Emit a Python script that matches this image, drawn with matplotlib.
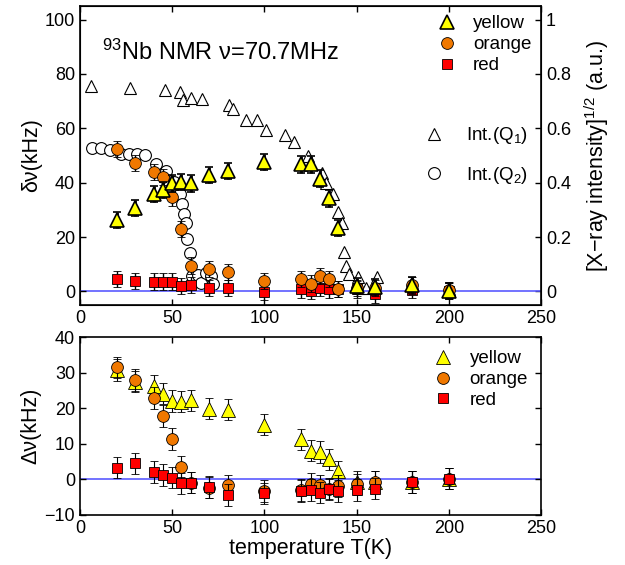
import numpy as np
import matplotlib
matplotlib.use('Agg')
import matplotlib.pyplot as plt
from matplotlib.lines import Line2D

plt.rcParams['font.family'] = ['Liberation Sans', 'DejaVu Sans']
plt.rcParams['font.size'] = 13
plt.rcParams['mathtext.fontset'] = 'custom'
plt.rcParams['mathtext.rm'] = 'Liberation Sans'
plt.rcParams['mathtext.it'] = 'Liberation Sans:italic'
plt.rcParams['mathtext.bf'] = 'Liberation Sans:bold'

# temperatures of the NMR points
temp = [20, 30, 40, 45, 50, 55, 60, 70, 80, 100, 120, 125, 130, 135, 140, 150, 160, 180, 200]

# top panel: delta nu (kHz)
top_yellow = [26.3, 30.8, 35.8, 37.2, 39.7, 40.3, 39.7, 42.7, 44.3, 47.6, 46.7, 46.7, 41.5, 34.2, 23.2, 1.9, 1.6, 2.3, 0.1]
top_orange = [52.4, 47.2, 43.9, 42.1, 34.6, 23.0, 9.5, 8.3, 7.1, 3.8, 4.6, 2.9, 5.6, 4.6, 1.0, 1.3, 1.3, 2.2, 0.4]
top_red = [4.6, 3.8, 3.6, 3.6, 3.6, 1.9, 2.3, 1.3, 1.3, -0.2, 0.7, 0.1, 1.3, 0.7, 1.0, 0.7, -1.1, 0.4, 0.1]
top_err = 3.0

# x-ray intensities (right axis)
q1_temp = [6, 27, 46, 54, 56, 60, 66, 81, 83, 90, 96, 101, 111, 116, 123.5, 131, 133.4, 137, 140, 142,
           143.4, 144, 146, 150.6, 155, 161, 180, 200]
q1_int = [0.755, 0.75, 0.74, 0.734, 0.705, 0.712, 0.708, 0.684, 0.672, 0.629, 0.629, 0.592, 0.574, 0.551,
          0.497, 0.434, 0.40, 0.36, 0.293, 0.25, 0.146, 0.093, 0.065, 0.053, 0.013, 0.053, 0.032, 0.01]
q2_temp = [6.3, 11.4, 16.5, 22, 26.8, 31, 35, 41, 46.6, 51, 54, 55.3, 56.6, 57.5, 57.9, 59.7, 60.7, 63.8,
           65.6, 68.3, 71, 72]
q2_int = [0.528, 0.528, 0.522, 0.507, 0.507, 0.507, 0.50, 0.47, 0.442, 0.402, 0.357, 0.32, 0.283, 0.252,
          0.191, 0.142, 0.056, 0.059, 0.032, 0.069, 0.056, 0.026]

# bottom panel: Delta nu (kHz)
bot_yellow = [30.7, 27.5, 26.2, 24.1, 22.0, 21.8, 22.2, 19.9, 19.6, 15.4, 11.3, 8.1, 7.7, 5.6, 2.3, -0.7, -0.7, -0.7, 0.2]
bot_orange = [31.5, 27.9, 22.9, 17.8, 11.4, 3.6, -0.9, -2.3, -1.7, -3.3, -3.0, -1.2, -1.7, -2.8, -1.9, -1.4, -0.7, -0.7, 0.2]
bot_red = [3.3, 4.5, 2.1, 1.2, 0.5, -1.1, -0.9, -2.1, -4.4, -3.9, -3.3, -3.0, -3.7, -2.6, -3.3, -3.0, -2.6, -0.7, 0.2]
bot_err = 3.0

c_yellow = '#ffff00'
c_orange = '#f07800'
c_red = '#ff0000'
c_zero = '#5a5aff'
label_fs = 15.5
legend_fs = 13.5

fig = plt.figure(figsize=(6.25, 5.65), dpi=100)
ax1 = fig.add_axes([0.128, 0.4602, 0.7376, 0.5292])
ax3 = fig.add_axes([0.128, 0.0885, 0.7376, 0.3150])

# ---- top panel
ax1.axhline(0, color=c_zero, lw=1.2, zorder=1)
ax2 = ax1.twinx()
ax2.plot(q1_temp, q1_int, ls='none', marker='^', ms=9, mfc='white', mec='black', mew=0.8)
ax2.plot(q2_temp, q2_int, ls='none', marker='o', ms=8.5, mfc='white', mec='black', mew=0.8)
ax2.set_ylim(-0.05, 1.05)
ax2.set_yticks([0, 0.2, 0.4, 0.6, 0.8, 1])
ax2.set_yticklabels(['0', '0.2', '0.4', '0.6', '0.8', '1'])
ax2.set_ylabel(r'[X$-$ray intensity]$^{1/2}$ (a.u.)', fontsize=label_fs, labelpad=8)
ax2.tick_params(direction='in', length=4, width=1)

ax1.set_zorder(ax2.get_zorder() + 1)
ax1.patch.set_visible(False)

ax1.errorbar(temp, top_red, yerr=top_err, ls='none', marker='s', ms=7, mfc=c_red, mec='black',
             mew=0.6, ecolor='black', elinewidth=1, capsize=3, label='red', zorder=3)
ax1.errorbar(temp, top_orange, yerr=top_err, ls='none', marker='o', ms=8.5, mfc=c_orange, mec='black',
             mew=0.6, ecolor='black', elinewidth=1, capsize=3, label='orange', zorder=4)
ax1.errorbar(temp, top_yellow, yerr=top_err, ls='none', marker='^', ms=9.5, mfc=c_yellow, mec='black',
             mew=1.2, ecolor='black', elinewidth=2, capsize=3, capthick=2, label='yellow', zorder=5)
ax1.set_xlim(0, 250)
ax1.set_ylim(-5, 105)
ax1.set_yticks([0, 20, 40, 60, 80, 100])
ax1.set_xticks([0, 50, 100, 150, 200, 250])
ax1.set_ylabel('δν(kHz)', fontsize=label_fs, labelpad=2)
ax1.tick_params(direction='in', top=True, length=4, width=1)
for s in ax1.spines.values():
    s.set_linewidth(1.2)
ax1.text(12, 85, r'$^{93}$Nb NMR ν=70.7MHz', fontsize=17)

h, l = ax1.get_legend_handles_labels()
leg1 = ax1.legend([x[0] for x in h[::-1]], l[::-1], loc='upper right', frameon=False,
                  fontsize=legend_fs, handletextpad=0.8, labelspacing=0.2, borderaxespad=0.1,
                  handlelength=1.2)
ax1.add_artist(leg1)

hq = [Line2D([], [], ls='none', marker='^', ms=9, mfc='white', mec='black', mew=0.8),
      Line2D([], [], ls='none', marker='o', ms=8.5, mfc='white', mec='black', mew=0.8)]
ax1.legend(hq, [r'Int.(Q$_1$)', r'Int.(Q$_2$)'], loc='center right', bbox_to_anchor=(1.0, 0.50),
           frameon=False, fontsize=legend_fs, labelspacing=1.0, handletextpad=1.1,
           handlelength=1.2, borderaxespad=0.3)

# ---- bottom panel
ax3.axhline(0, color=c_zero, lw=1.2, zorder=1)
ax3.errorbar(temp, bot_yellow, yerr=bot_err, ls='none', marker='^', ms=9.5, mfc=c_yellow, mec='black',
             mew=0.6, ecolor='black', elinewidth=0.8, capsize=3, label='yellow', zorder=3)
ax3.errorbar(temp, bot_orange, yerr=bot_err, ls='none', marker='o', ms=8.5, mfc=c_orange, mec='black',
             mew=0.6, ecolor='black', elinewidth=0.8, capsize=3, label='orange', zorder=4)
ax3.errorbar(temp, bot_red, yerr=bot_err, ls='none', marker='s', ms=7, mfc=c_red, mec='black',
             mew=0.6, ecolor='black', elinewidth=0.8, capsize=3, label='red', zorder=5)
ax3.set_xlim(0, 250)
ax3.set_ylim(-10, 40)
ax3.set_yticks([-10, 0, 10, 20, 30, 40])
ax3.set_xticks([0, 50, 100, 150, 200, 250])
ax3.set_ylabel('Δν(kHz)', fontsize=label_fs, labelpad=2)
ax3.set_xlabel('temperature T(K)', fontsize=label_fs, labelpad=1)
ax3.tick_params(direction='in', top=True, right=True, length=4, width=1)
for s in ax3.spines.values():
    s.set_linewidth(1.2)
h, l = ax3.get_legend_handles_labels()
ax3.legend([x[0] for x in h], l, loc='upper right', frameon=False, fontsize=legend_fs,
           handletextpad=0.8, labelspacing=0.2, borderaxespad=0.3, handlelength=1.2)

fig.savefig('out.png', dpi=100)
